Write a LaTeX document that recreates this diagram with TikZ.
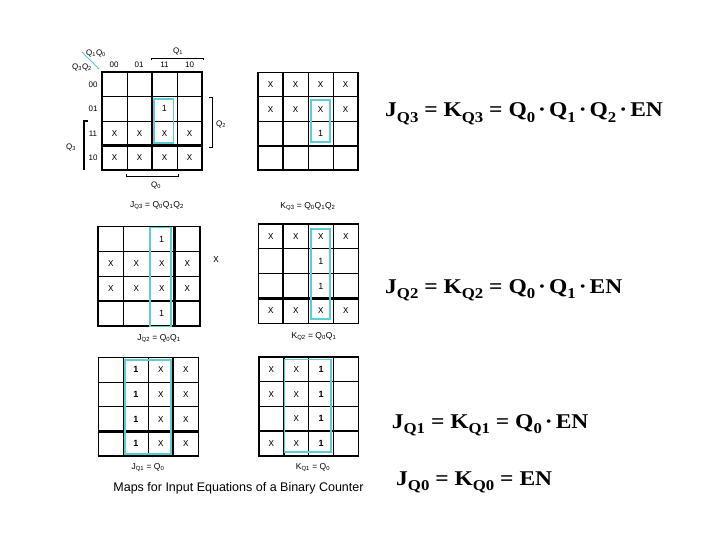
\documentclass[tikz,border=0pt]{standalone}
\usepackage{graphicx}
\usepackage{fontspec}
\setmainfont{Liberation Serif}
\setsansfont{Liberation Sans}
\newfontfamily\monox{Liberation Mono}
\definecolor{loopc}{RGB}{90,205,215}
\newcommand\lo[1]{\raisebox{-5.5bp}{\fontsize{15bp}{15bp}\selectfont #1}}
\newcommand\dt{\hspace{2.7bp}·\hspace{2.7bp}}
\newcommand\kgrid[6]{%
  \foreach \i in {1,2,3} {
    \draw[thingrid] ({#1+\i*#3},#2) -- ++(0,{4*#4});
    \draw[thingrid] (#1,{#2+\i*#4}) -- ++({4*#3},0);
  }
  \draw[thickgrid] ({#1+#5*#3},#2) -- ++(0,{4*#4});
  \draw[thickgrid] (#1,{#2+#6*#4}) -- ++({4*#3},0);
  \draw[border] (#1,#2) rectangle ++({4*#3},{4*#4});
}
\newcommand\kcells[6]{%
  \foreach \r/\c/\t in {#6} {
    \node[cell] (#1-\r\c) at ({#2+(\c+0.5)*#4},{#3+(\r+0.5)*#5}) {\t};
  }
}
\tikzset{
  thingrid/.style={line width=0.8bp},
  thickgrid/.style={line width=2.2bp},
  border/.style={line width=1.3bp},
  loopbox/.style={draw=loopc, line width=1.6bp},
  cell/.style={font=\monox\fontsize{9bp}{9bp}\selectfont, inner sep=0pt},
  lab/.style={font=\sffamily\fontsize{8bp}{8bp}\selectfont, inner sep=0pt},
  caplab/.style={font=\sffamily\fontsize{8.5bp}{8.5bp}\selectfont, inner sep=0pt},
  eq/.style={font=\bfseries\fontsize{21bp}{25bp}\selectfont, anchor=base west, inner sep=0pt},
  brk/.style={line width=0.7bp},
}
\newcommand\one{{\sffamily 1}}
\newcommand\bone{{\sffamily\bfseries 1}}
\newcommand\eqs[1]{\scalebox{1.12}[1]{#1}}
\begin{document}
\begin{tikzpicture}[x=1bp,y=-1bp]
\fill[white] (0,0) rectangle (720,540);
\useasboundingbox (0,0) rectangle (720,540);

% ---------- Map 1 : J_Q3
\kgrid{102}{72}{25}{24.5}{2}{3}
\kcells{ma}{102}{72}{25}{24.5}{1/2/\one,2/0/X,2/1/X,2/2/X,2/3/X,3/0/X,3/1/X,3/2/X,3/3/X}
\draw[loopbox] (154,99) rectangle (173.3,143.3);
\draw[loopc, line width=0.9bp] (82,52) -- (99,69);
\node[lab] (q1q0) at (96,53.5) {Q\textsubscript{1}Q\textsubscript{0}};
\node[lab] (q3q2) at (82,67) {Q\textsubscript{3}Q\textsubscript{2}};
\node[lab] (c00) at (114,65) {00};
\node[lab] (c01) at (139,65) {01};
\node[lab] (c11) at (164.5,65) {11};
\node[lab] (c10) at (189.5,65) {10};
\node[lab] (r00) at (93,84.3) {00};
\node[lab] (r01) at (93,108.8) {01};
\node[lab] (r11) at (93,133.3) {11};
\node[lab] (r10) at (93,157.8) {10};
\draw[brk] (151,60) -- (151,58) -- (203,58) -- (203,60);
\node[lab] (lq1) at (178,51) {Q\textsubscript{1}};
\draw[brk] (209,97) -- (212,97) -- (212,147) -- (209,147);
\node[lab] (lq2) at (221,124) {Q\textsubscript{2}};
\draw[line width=1.6bp] (88,121) -- (84,121) -- (84,170);
\node[lab] (lq3) at (71,147) {Q\textsubscript{3}};
\draw[brk] (126,174) -- (126,176) -- (178,176) -- (178,174);
\node[lab] (lq0) at (156,185) {Q\textsubscript{0}};
\node[caplab] (capa) at (157,206) {J\textsubscript{Q3} = Q\textsubscript{0}Q\textsubscript{1}Q\textsubscript{2}};

% ---------- Map 2 : K_Q3
\kgrid{258}{72.5}{25}{24.4}{1}{3}
\kcells{mb}{258}{72.5}{25}{24.4}{0/0/X,0/1/X,0/2/X,0/3/X,1/0/X,1/1/X,1/2/X,1/3/X,2/2/\one}
\draw[loopbox] (311,100) rectangle (330,142.3);
\node[caplab] (capb) at (308,207) {K\textsubscript{Q3} = Q\textsubscript{0}Q\textsubscript{1}Q\textsubscript{2}};

% ---------- Map 3 : J_Q2
\kgrid{98}{226.5}{25.5}{24.9}{3}{3}
\kcells{mc}{98}{226.5}{25.5}{24.9}{0/2/\one,1/0/X,1/1/X,1/2/X,1/3/X,2/0/X,2/1/X,2/2/X,2/3/X,3/2/\one}
\draw[loopbox] (150,227.5) rectangle (171,326.5);
\node[cell] (xx) at (216,260) {X};
\node[caplab] (capc) at (159,339) {J\textsubscript{Q2} = Q\textsubscript{0}Q\textsubscript{1}};

% ---------- Map 4 : K_Q2
\kgrid{258.3}{224}{25}{24.8}{1}{3}
\kcells{md}{258.3}{224}{25}{24.8}{0/0/X,0/1/X,0/2/X,0/3/X,1/2/\one,2/2/\one,3/0/X,3/1/X,3/2/X,3/3/X}
\draw[loopbox] (311,229.3) rectangle (330,319);
\node[caplab] (capd) at (314,337) {K\textsubscript{Q2} = Q\textsubscript{0}Q\textsubscript{1}};

% ---------- Map 5 : J_Q1
\kgrid{98.3}{357.3}{25}{24.7}{3}{3}
\kcells{me}{98.3}{357.3}{25}{24.7}{0/1/\bone,0/2/X,0/3/X,1/1/\bone,1/2/X,1/3/X,2/1/\bone,2/2/X,2/3/X,3/1/\bone,3/2/X,3/3/X}
\draw[loopbox] (125,360) rectangle (171,454);
\node[caplab] (cape) at (148,468) {J\textsubscript{Q1} = Q\textsubscript{0}};

% ---------- Map 6 : K_Q1
\kgrid{259}{357}{24.8}{24.75}{1}{3}
\kcells{mf}{259}{357}{24.8}{24.75}{0/0/X,0/1/X,0/2/\bone,1/0/X,1/1/X,1/2/\bone,2/1/X,2/2/\bone,3/0/X,3/1/X,3/2/\bone}
\draw[loopbox] (284.3,359.3) rectangle (331,451.7);
\node[caplab] (capf) at (313,468) {K\textsubscript{Q1} = Q\textsubscript{0}};

\node[font=\sffamily\fontsize{12.5bp}{14bp}\selectfont, inner sep=0pt] (title) at (238.5,488) {Maps for Input Equations of a Binary Counter};

% ---------- Equations
\node[eq] (e3) at (385,117) {\eqs{J\lo{Q3} = K\lo{Q3} = Q\lo{0}\dt Q\lo{1}\dt Q\lo{2}\dt EN}};
\node[eq] (e2) at (385,293) {\eqs{J\lo{Q2} = K\lo{Q2} = Q\lo{0}\dt Q\lo{1}\dt EN}};
\node[eq] (e1) at (391.7,428.3) {\eqs{J\lo{Q1} = K\lo{Q1} = Q\lo{0}\dt EN}};
\node[eq] (e0) at (396,485) {\eqs{J\lo{Q0} = K\lo{Q0} = EN}};
\end{tikzpicture}
\end{document}
